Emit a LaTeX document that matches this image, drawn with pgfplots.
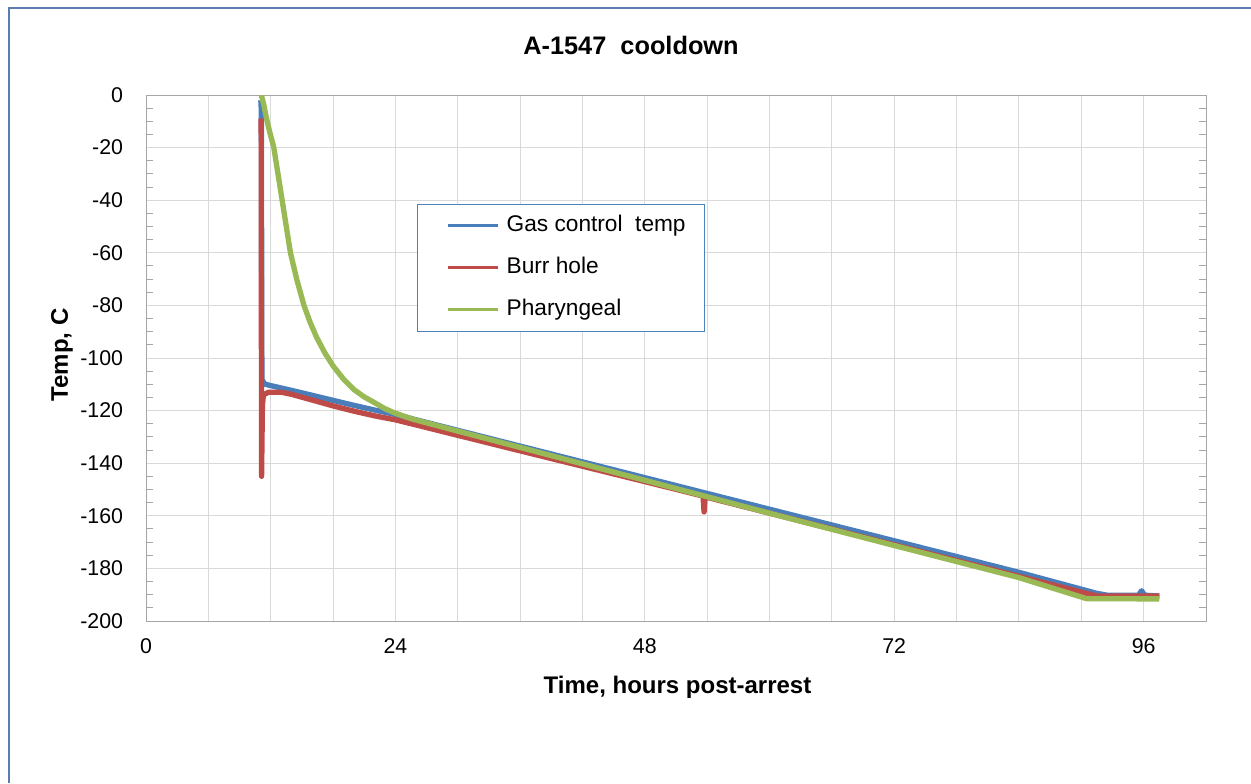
\documentclass[border=0pt]{standalone}
\usepackage{fontspec}
\setmainfont{Liberation Sans}
\usepackage{pgfplots}
\pgfplotsset{compat=1.18}

\definecolor{gasblue}{HTML}{4A7EBB}
\definecolor{burrred}{HTML}{BE4B48}
\definecolor{pharyngreen}{HTML}{98B954}
\definecolor{framegray}{HTML}{A6A6A6}
\definecolor{gridgray}{HTML}{D9D9D9}
\definecolor{chartborder}{HTML}{5A7DAE}
\definecolor{legendborder}{HTML}{4F81BD}

\begin{document}
\begin{tikzpicture}
% page is 1251x783 px at 0.75pt per px
\useasboundingbox (0pt,0pt) rectangle (938.25pt,587.25pt);
\draw[chartborder, line width=1.5pt] (6.4pt,0pt) -- (6.4pt,580.9pt) -- (938.25pt,580.9pt);
\node[anchor=base, font=\bfseries\fontsize{19}{22}\selectfont] at (473.25pt,546.4pt) {A-1547\ \ cooldown};

\begin{axis}[
    at={(109.5pt,121.5pt)}, anchor=south west,
    scale only axis, width=795pt, height=394.5pt,
    xmin=0, xmax=102, ymin=-200, ymax=0,
    axis line style={framegray, line width=0.75pt},
    grid=major,
    major grid style={gridgray, line width=0.75pt},
    xtick={0,6,...,102},
    xticklabels={0,,,,24,,,,48,,,,72,,,,96,,},
    ytick={-200,-180,...,0},
    yticklabels={-200,-180,-160,-140,-120,-100,-80,-60,-40,-20,0},
    minor y tick num=3,
    major tick length=0pt,
    minor tick length=5.25pt,
    tick align=inside,
    minor tick style={framegray, line width=0.75pt},
    tick label style={font=\fontsize{16}{19}\selectfont},
    xticklabel style={anchor=north, inner sep=0pt, yshift=-12.75pt},
    yticklabel style={anchor=east, inner sep=0pt, xshift=-17pt},
    xlabel={Time, hours post-arrest},
    ylabel={Temp, C},
    xlabel style={at={(rel axis cs:0.5014,-0.1369)}, anchor=base, font=\bfseries\fontsize{18}{21}\selectfont},
    ylabel style={at={(rel axis cs:-0.0736,0.5057)}, anchor=base, font=\bfseries\fontsize{18}{21}\selectfont},
    legend cell align=left,
    legend image code/.code={\path (-7pt,0pt); \draw[#1, line width=2.25pt] (0pt,0pt) -- (37.5pt,0pt);},
    legend style={
        at={(rel axis cs:0.2557,0.7928)}, anchor=north west,
        draw=legendborder, line width=0.75pt, fill=white,
        inner xsep=14pt, inner ysep=8pt,
        row sep=15.5pt, column sep=5.25pt,
        font=\fontsize{17}{20}\selectfont,
        nodes={inner sep=0pt, text height=12pt, text depth=4pt},
    },
]
\addplot[gasblue, line width=4pt, line join=round] coordinates {
(11.05,-2) (11.1,-6) (11.15,-108) (11.25,-109) (11.5,-110) (12,-110.5)
(14,-112.3) (16,-114.2) (18,-116.1) (20,-118) (22,-119.8) (24,-121.5)
(30,-127.5) (36,-133.5) (42,-139.5) (48,-145.5) (60,-157.5) (72,-169.5)
(84,-181.5) (91.5,-189.5) (92.5,-190.2) (95.5,-190.2) (95.8,-188.5)
(96.1,-190.2) (97.5,-190.5)
};
\addlegendentry{Gas control\ \ temp}
\addplot[burrred, line width=4pt, line join=round] coordinates {
(11.08,-9) (11.12,-145) (11.2,-118) (11.3,-114) (11.8,-113) (13,-113)
(14,-113.8) (16,-116) (18,-118.2) (20,-120.2) (22,-122) (24,-123.5)
(36,-135.3) (48,-147) (53.6,-152.5) (53.7,-158.5) (53.8,-152.8) (60,-159)
(72,-171) (84,-183) (90.5,-189.5) (91.5,-190.5) (97.5,-190.5)
};
\addlegendentry{Burr hole}
\addplot[pharyngreen, line width=4pt, line join=round] coordinates {
(11.1,0) (11.35,-4) (11.6,-9) (11.9,-14) (12.3,-20) (12.7,-30) (13.1,-40)
(13.5,-50) (13.9,-60) (14.5,-70) (15.2,-80) (15.8,-86.5) (16.4,-92)
(17.2,-98) (18,-103) (19,-108) (20,-112) (21,-114.8) (22,-117)
(23,-119.3) (24,-121) (25.7,-123.3) (30,-127.8) (36,-134) (48,-146.5)
(60,-159) (72,-171.3) (84,-183.5) (90.5,-191.5) (97.5,-191.6)
};
\addlegendentry{Pharyngeal}
\end{axis}
\end{tikzpicture}
\end{document}
